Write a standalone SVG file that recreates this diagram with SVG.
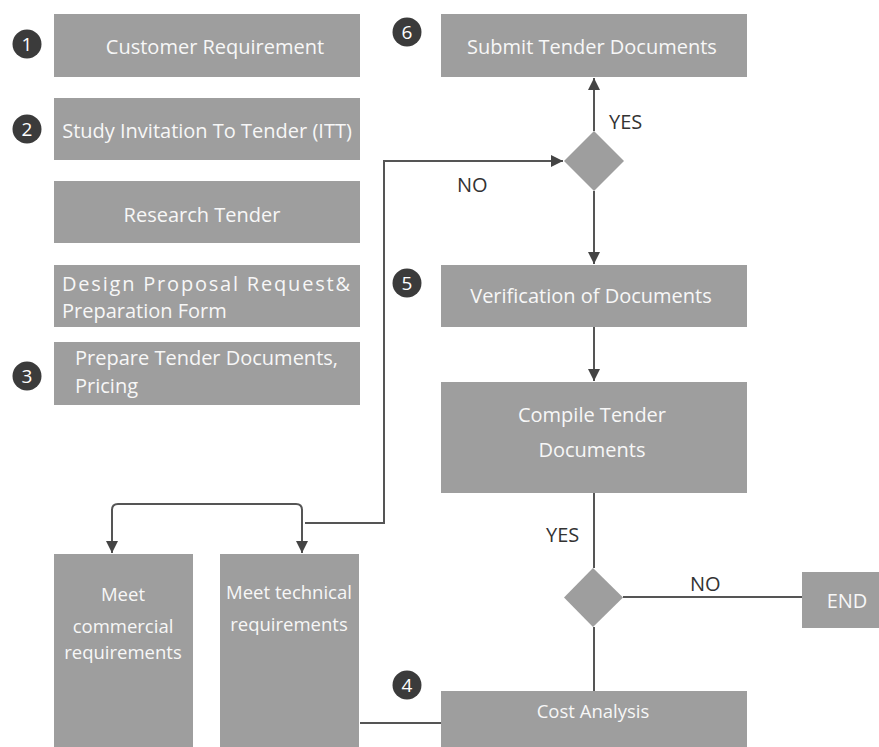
<svg xmlns="http://www.w3.org/2000/svg" width="879" height="747" viewBox="0 0 879 747">
<defs>
<style>
.box{fill:#9e9e9e}
.t{font-family:"Open Sans","Noto Sans",sans-serif;font-size:20px;fill:#f7f7f7}
.s{font-size:18.5px}
.tc{text-anchor:middle}
.lbl{font-family:"Open Sans","Noto Sans",sans-serif;font-size:20px;fill:#333}
.num{fill:#3b3b3b}
.nt{font-family:"Open Sans","Noto Sans",sans-serif;font-size:19px;fill:#fff;text-anchor:middle}
.ln{fill:none;stroke:#555;stroke-width:2}
</style>
<marker id="ah" viewBox="0 0 10 10" refX="10" refY="5" markerWidth="12" markerHeight="12" markerUnits="userSpaceOnUse" orient="auto">
<path d="M0,0 L10,5 L0,10 z" fill="#444"/>
</marker>
</defs>
<rect width="879" height="747" fill="#fff"/>
<g id="connectors">
<path class="ln" d="M594,131 V78" marker-end="url(#ah)"/>
<path class="ln" d="M305,523 H384 V161 H563" marker-end="url(#ah)"/>
<path class="ln" d="M594,191 V264" marker-end="url(#ah)"/>
<path class="ln" d="M594,327 V381" marker-end="url(#ah)"/>
<path class="ln" d="M200,504 H296 Q302,504 302,510 V553" marker-end="url(#ah)"/>
<path class="ln" d="M200,504 H118 Q112,504 112,510 V553" marker-end="url(#ah)"/>
<path class="ln" d="M594,493 V568"/>
<path class="ln" d="M623,597 H802"/>
<path class="ln" d="M594,627 V691"/>
<path class="ln" d="M360,723 H441"/>
<text class="lbl" x="609" y="129">YES</text>
<text class="lbl" x="457" y="192">NO</text>
<text class="lbl" x="546" y="542">YES</text>
<text class="lbl" x="690" y="591">NO</text>
</g>
<g id="n1"><rect class="box" x="54" y="14" width="306" height="63"/><text class="t tc" x="215" y="54">Customer Requirement</text></g>
<g id="c1"><circle class="num" cx="27" cy="44" r="14.5"/><text class="nt" x="27" y="51">1</text></g>
<g id="n2"><rect class="box" x="54" y="98" width="306" height="62"/><text class="t tc" x="207" y="138">Study Invitation To Tender (ITT)</text></g>
<g id="c2"><circle class="num" cx="27" cy="129" r="14.5"/><text class="nt" x="27" y="136">2</text></g>
<g id="n3"><rect class="box" x="54" y="181" width="306" height="62"/><text class="t tc" x="202" y="222">Research Tender</text></g>
<g id="n4"><rect class="box" x="54" y="265" width="306" height="62"/><text class="t" x="62" y="291" textLength="288" lengthAdjust="spacing">Design Proposal Request&amp;</text><text class="t" x="62" y="318">Preparation Form</text></g>
<g id="n5"><rect class="box" x="54" y="342" width="306" height="63"/><text class="t" x="75" y="365">Prepare Tender Documents,</text><text class="t" x="75" y="393">Pricing</text></g>
<g id="c3"><circle class="num" cx="27" cy="376" r="14.5"/><text class="nt" x="27" y="383">3</text></g>
<g id="n6"><rect class="box" x="441" y="14" width="306" height="63"/><text class="t tc" x="592" y="54">Submit Tender Documents</text></g>
<g id="c6"><circle class="num" cx="407" cy="32" r="14.5"/><text class="nt" x="407" y="39">6</text></g>
<g id="d1"><polygon class="box" points="594,131 624,161 594,191 564,161"/></g>
<g id="n7"><rect class="box" x="441" y="265" width="306" height="62"/><text class="t tc" x="591" y="303">Verification of Documents</text></g>
<g id="c5"><circle class="num" cx="407" cy="283" r="14.5"/><text class="nt" x="407" y="290">5</text></g>
<g id="n8"><rect class="box" x="441" y="382" width="306" height="111"/><text class="t tc" x="592" y="422">Compile Tender</text><text class="t tc" x="592" y="457">Documents</text></g>
<g id="d2"><polygon class="box" points="593,568 623,597.5 593,627 564,597.5"/></g>
<g id="n9"><rect class="box" x="802" y="572" width="77" height="56"/><text class="t tc" x="847" y="608">END</text></g>
<g id="n10"><rect class="box" x="441" y="691" width="306" height="56"/><text class="t s tc" x="593" y="718">Cost Analysis</text></g>
<g id="c4"><circle class="num" cx="407" cy="685" r="14.5"/><text class="nt" x="407" y="692">4</text></g>
<g id="n11"><rect class="box" x="54" y="554" width="139" height="193"/><text class="t s tc" x="123" y="601">Meet</text><text class="t s tc" x="123" y="633">commercial</text><text class="t s tc" x="123" y="659">requirements</text></g>
<g id="n12"><rect class="box" x="220" y="554" width="139" height="193"/><text class="t s tc" x="289" y="599">Meet technical</text><text class="t s tc" x="289" y="631">requirements</text></g>
</svg>
